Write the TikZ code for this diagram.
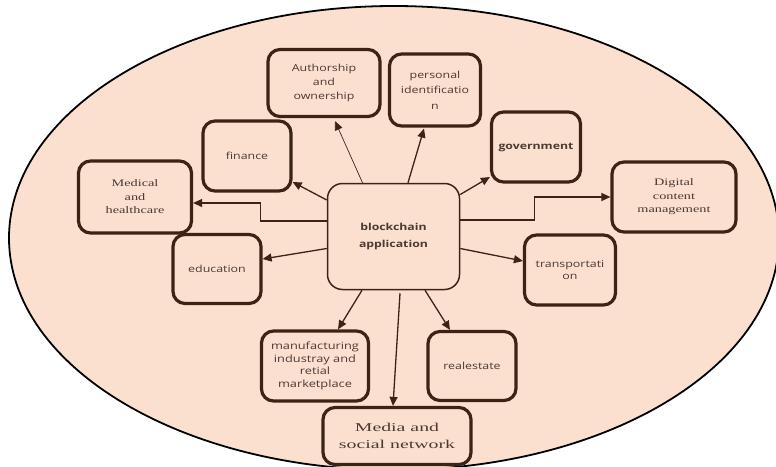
\documentclass[tikz,border=0pt]{standalone}
\usepackage{fontspec}
\usetikzlibrary{arrows.meta}
\newfontfamily\osf[FakeStretch=1.28]{Open Sans}
\newfontfamily\lsf[FakeStretch=1.43]{Liberation Serif}
\newfontfamily\lsfw[FakeStretch=1.65]{Liberation Serif}
\definecolor{peach}{HTML}{FBE0D0}
\definecolor{bord}{HTML}{3C2415}
\definecolor{txt}{HTML}{4A3A32}
\tikzset{
  box/.style={draw=bord, line width=3.2pt, rounded corners=12pt, fill=peach,
    align=center, text=txt, inner sep=2pt},
  sbox/.style={box, font=\osf\fontsize{9.7}{14}\selectfont},
  rbox/.style={box, font=\lsf\fontsize{10}{13.5}\selectfont},
  hub/.style={draw=bord, line width=1.5pt, rounded corners=15pt, fill=peach,
    align=center, text=txt, font=\osf\bfseries\fontsize{9.6}{17}\selectfont},
  arr/.style={draw=bord, line width=1.3pt, -{Triangle[length=9pt,width=8pt]}},
  tarr/.style={draw=bord, line width=0.7pt, -{Triangle[length=9pt,width=8pt]}},
}
\begin{document}
\begin{tikzpicture}[x=1pt,y=-1pt]
\useasboundingbox (0,0) rectangle (776,466);
\begin{scope}
\clip (0,0) rectangle (776,466);
\fill[peach] (394,238) ellipse [x radius=385, y radius=232];
\draw[black, line width=1.8pt] (394,238) ellipse [x radius=385, y radius=232];
\end{scope}

\node[hub, minimum width=132pt, minimum height=106pt] (bc) at (393.5,236.5) {blockchain\\application};

\node[sbox, minimum width=112pt, minimum height=67pt] (auth) at (324,83) {Authorship\\and\\ownership};
\node[sbox, minimum width=91pt, minimum height=72pt, font=\osf\fontsize{9.7}{15.5}\selectfont] (pid) at (435,90) {personal\\identificatio\\n};
\node[sbox, minimum width=89pt, minimum height=70pt, font=\osf\bfseries\fontsize{9.6}{14}\selectfont] (gov) at (536,147) {government};
\node[rbox, minimum width=124pt, minimum height=70pt] (dcm) at (674,197) {Digital\\content\\management};
\node[sbox, minimum width=91pt, minimum height=70pt, font=\osf\fontsize{9.7}{11.5}\selectfont] (trans) at (570,270) {transportati\\on};
\node[sbox, minimum width=88pt, minimum height=69pt] (real) at (472,366) {realestate};
\node[box, minimum width=148pt, minimum height=57pt, font=\lsfw\fontsize{12}{17}\selectfont] (media) at (397,436) {Media and\\social network};
\node[box, minimum width=107pt, minimum height=70pt, font=\osf\fontsize{10}{12.5}\selectfont] (manu) at (315,366) {manufacturing\\industray and\\retial\\marketplace};
\node[sbox, minimum width=88pt, minimum height=69pt] (edu) at (217,269) {education};
\node[rbox, minimum width=113pt, minimum height=72pt] (med) at (135,197) {Medical\\and\\healthcare};
\node[sbox, minimum width=88pt, minimum height=70pt] (fin) at (247,156) {finance};

\draw[tarr] ([xshift=-31pt]bc.north) -- ([xshift=11pt,yshift=-3pt]auth.south);
\draw[arr] ([xshift=14.5pt]bc.north) -- ([xshift=-11pt,yshift=-1pt]pid.south);
\draw[arr] ([yshift=42pt]bc.east) -- ([yshift=-30pt]gov.west);
\draw[arr] ([yshift=16.5pt]bc.east) -- ++(74,0) |- (dcm.west);
\draw[arr] ([yshift=-12pt]bc.east) -- ([yshift=9pt]trans.west);
\draw[arr] ([xshift=31.5pt]bc.south) -- ([xshift=-22pt]real.north);
\draw[arr] ([xshift=6.5pt,yshift=-3pt]bc.south) -- ([xshift=-4pt]media.north);
\draw[arr] ([xshift=-31.5pt]bc.south) -- ([xshift=23pt]manu.north);
\draw[arr] ([yshift=-12pt]bc.west) -- ([yshift=10pt]edu.east);
\draw[arr] ([yshift=15.5pt]bc.west) -- ++(-66,0) |- ([yshift=-6pt]med.east);
\draw[arr] ([yshift=36.5pt]bc.west) -- ([yshift=-26pt]fin.east);
\end{tikzpicture}
\end{document}
